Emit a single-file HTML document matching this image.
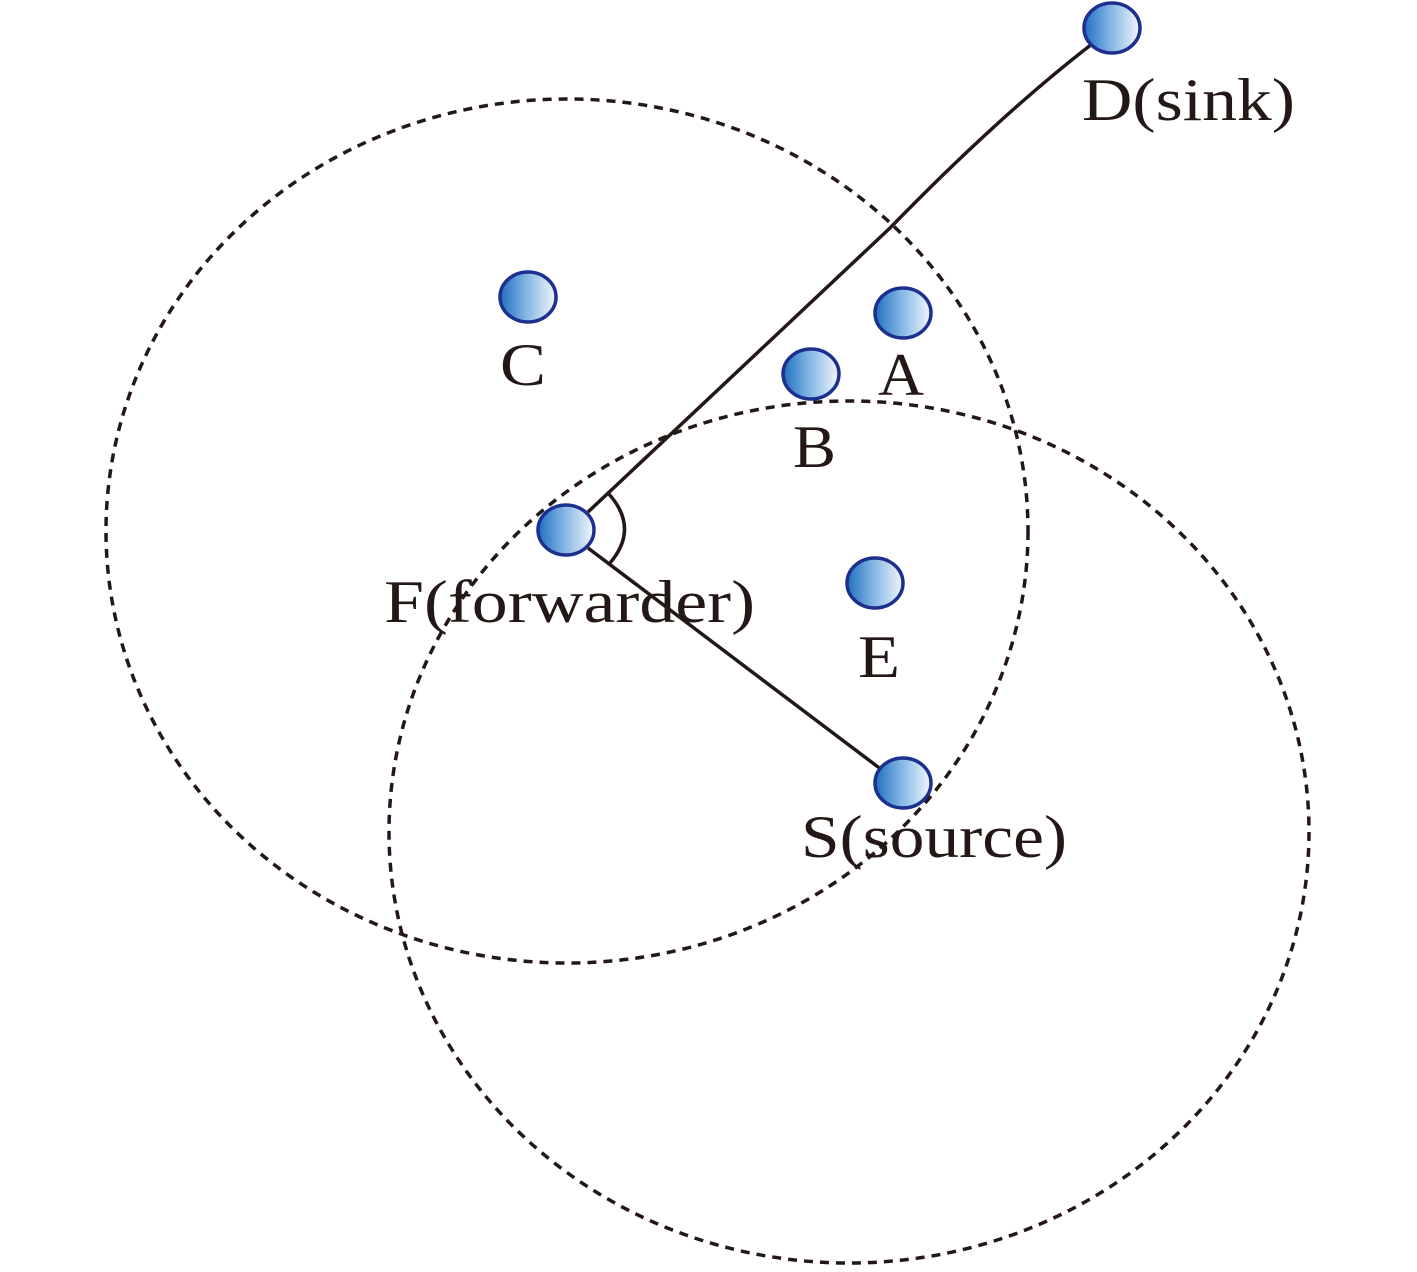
<!DOCTYPE html>
<html><head><meta charset="utf-8"><style>html,body{margin:0;padding:0;background:#fff}</style></head>
<body>
<svg width="1417" height="1267" viewBox="0 0 1417 1267" xmlns="http://www.w3.org/2000/svg">
<defs>
<linearGradient id="g" x1="0" y1="0" x2="1" y2="0">
<stop offset="0" stop-color="#1f6fc0"/><stop offset="0.45" stop-color="#7fb3e3"/><stop offset="1" stop-color="#f2f7fc"/>
</linearGradient>
</defs>
<g fill="none" stroke="#231815" stroke-width="3.5" stroke-dasharray="9,7">
<ellipse cx="567" cy="531" rx="461" ry="432"/>
<ellipse cx="849" cy="832" rx="460" ry="431"/>
</g>
<g fill="none" stroke="#231815" stroke-width="3.5">
<path d="M1092,44 Q1000,115 890,228 L588,512"/>
<path d="M588,548 L882,770"/>
<path d="M608,493 Q640,528 610,563"/>
</g>
<g fill="url(#g)" stroke="#1d2f8f" stroke-width="3.5">
<ellipse cx="1112" cy="28" rx="28" ry="25"/>
<ellipse cx="528" cy="297" rx="28" ry="25"/>
<ellipse cx="903" cy="313" rx="28" ry="25"/>
<ellipse cx="811" cy="374" rx="28" ry="25"/>
<ellipse cx="566" cy="530" rx="28" ry="25"/>
<ellipse cx="875" cy="583" rx="28" ry="25"/>
<ellipse cx="903" cy="783" rx="28" ry="25"/>
</g>
<g font-family="Liberation Serif, serif" font-size="60" fill="#231815">
<text x="1082" y="120" textLength="213" lengthAdjust="spacingAndGlyphs">D(sink)</text>
<text x="500" y="385" textLength="46" lengthAdjust="spacingAndGlyphs">C</text>
<text x="878" y="395" textLength="46" lengthAdjust="spacingAndGlyphs">A</text>
<text x="793" y="467" textLength="43" lengthAdjust="spacingAndGlyphs">B</text>
<text x="384" y="622" textLength="371" lengthAdjust="spacingAndGlyphs">F(forwarder)</text>
<text x="858" y="677" textLength="42" lengthAdjust="spacingAndGlyphs">E</text>
<text x="801" y="857" textLength="266" lengthAdjust="spacingAndGlyphs">S(source)</text>
</g>
</svg>
</body></html>
